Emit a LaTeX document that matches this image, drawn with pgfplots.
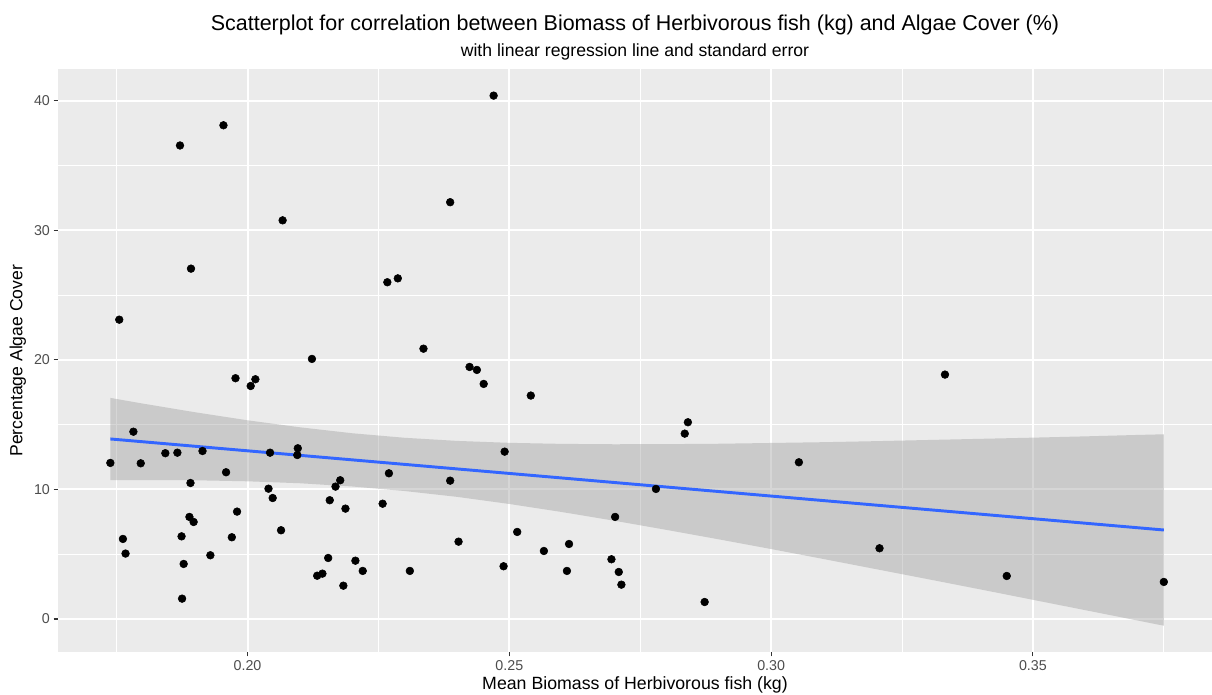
\documentclass[border=0pt]{standalone}
\usepackage{fontspec}
\setmainfont{Liberation Sans}
\usepackage{pgfplots}
\pgfplotsset{compat=1.18}
\definecolor{panelbg}{HTML}{EBEBEB}
\definecolor{ticklab}{HTML}{4D4D4D}
\definecolor{tickcol}{HTML}{333333}
\definecolor{smoothcol}{HTML}{3366FF}
\definecolor{ribboncol}{HTML}{999999}

\begin{document}
\begin{tikzpicture}
\begin{axis}[
  scale only axis,
  width=865.5bp, height=436.9bp,
  xmin=0.1638, xmax=0.3842, ymin=-2.55, ymax=42.43,
  axis line style={draw=none},
  axis background/.style={fill=panelbg},
  xtick={0.20,0.25,0.30,0.35}, xticklabels={0.20,0.25,0.30,0.35},
  ytick={0,10,20,30,40},
  minor xtick={0.175,0.225,0.275,0.325,0.375},
  minor ytick={5,15,25,35},
  grid=both,
  major grid style={white, line width=1.5bp},
  minor grid style={white, line width=0.75bp},
  tick align=outside,
  xtick pos=left, ytick pos=left,
  major tick length=3.3bp,
  minor tick length=0pt,
  tick style={tickcol, line width=0.8bp},
  /pgf/number format/assume math mode=true,
  ticklabel style={font=\fontsize{10.7bp}{12bp}\selectfont, text=ticklab},
  xticklabel style={inner sep=0pt, anchor=north},
  yticklabel style={inner sep=0pt, anchor=east},
  xticklabel shift=2.8bp,
  yticklabel shift=2.6bp,
]
\addplot[only marks, mark=*, mark size=2.9bp, black] table {
x y
0.1755 23.11
0.1871 36.56
0.1954 38.12
0.1892 27.05
0.2067 30.78
0.2123 20.08
0.2267 26.00
0.2287 26.30
0.1977 18.59
0.2006 17.99
0.2015 18.51
0.2470 40.41
0.2387 32.18
0.2336 20.87
0.2424 19.46
0.2438 19.23
0.2451 18.15
0.2541 17.25
0.2841 15.19
0.2835 14.31
0.2491 12.92
0.2387 10.68
0.3053 12.10
0.2780 10.04
0.2702 7.88
0.2515 6.72
0.2403 5.97
0.2614 5.79
0.2566 5.25
0.2695 4.61
0.2310 3.71
0.2489 4.07
0.2610 3.71
0.2709 3.63
0.2714 2.65
0.2873 1.31
0.3332 18.87
0.3207 5.46
0.3450 3.32
0.3750 2.86
0.1738 12.05
0.1782 14.46
0.1796 12.02
0.1843 12.80
0.1866 12.84
0.1914 12.97
0.1959 11.33
0.1891 10.50
0.1762 6.18
0.1767 5.05
0.1874 6.38
0.1889 7.88
0.1897 7.49
0.1878 4.25
0.1875 1.57
0.1929 4.92
0.1970 6.31
0.1980 8.29
0.2043 12.84
0.2040 10.06
0.2048 9.34
0.2064 6.85
0.2096 13.18
0.2095 12.66
0.2177 10.71
0.2168 10.22
0.2157 9.17
0.2187 8.52
0.2154 4.71
0.2206 4.50
0.2133 3.34
0.2143 3.50
0.2220 3.71
0.2183 2.57
0.2258 8.90
0.2270 11.25
};
\addplot[draw=none, fill=ribboncol, fill opacity=0.4] coordinates {
(0.1738,17.07) (0.18,16.63) (0.19,15.96) (0.20,15.34) (0.21,14.80) (0.22,14.34)
(0.23,13.99) (0.24,13.75) (0.25,13.60) (0.26,13.52) (0.27,13.49) (0.28,13.50)
(0.29,13.53) (0.30,13.59) (0.31,13.65) (0.32,13.73) (0.33,13.82) (0.34,13.91)
(0.35,14.00) (0.36,14.10) (0.37,14.21) (0.375,14.26)
(0.375,-0.52) (0.37,-0.12) (0.36,0.68) (0.35,1.48) (0.34,2.28) (0.33,3.07)
(0.32,3.85) (0.31,4.63) (0.30,5.40) (0.29,6.15) (0.28,6.88) (0.27,7.59)
(0.26,8.26) (0.25,8.88) (0.24,9.43) (0.23,9.88) (0.22,10.23) (0.21,10.48)
(0.20,10.63) (0.19,10.71) (0.18,10.73) (0.1738,10.73)
} -- cycle;
\addplot[smoothcol, line width=2.2bp] coordinates {(0.1738,13.90) (0.375,6.87)};
\end{axis}
\node[anchor=base, font=\fontsize{16.1bp}{18bp}\selectfont] at ([yshift=29.1bp]current axis.north) {Scatterplot for correlation between Biomass of Herbivorous fish (kg) and Algae Cover (\%)};
\node[anchor=base, font=\fontsize{13.2bp}{15bp}\selectfont] at ([yshift=9.6bp]current axis.north) {with linear regression line and standard error};
\node[anchor=base, font=\fontsize{13.3bp}{15bp}\selectfont] at ([yshift=-28.1bp]current axis.south) {Mean Biomass of Herbivorous fish (kg)};
\node[anchor=base, rotate=90, font=\fontsize{13.2bp}{15bp}\selectfont] at ([xshift=-26.8bp]current axis.west) {Percentage Algae Cover};
\pgfresetboundingbox
\path[use as bounding box] ([xshift=-43.5bp, yshift=-32.25bp]current axis.south west) rectangle ([yshift=52.1bp]current axis.north east);
\end{tikzpicture}
\end{document}
